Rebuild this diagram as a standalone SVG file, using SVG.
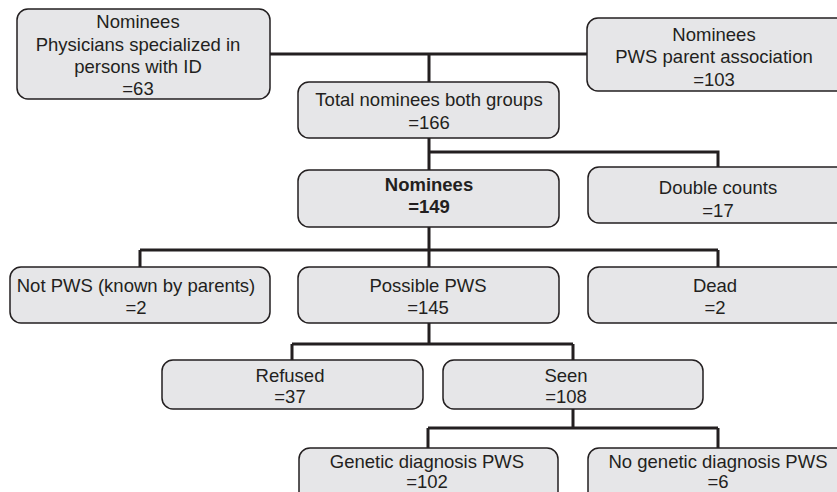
<svg xmlns="http://www.w3.org/2000/svg" width="837" height="492" viewBox="0 0 837 492">
<style>
.box{fill:#e6e6e8;stroke:#231f20;stroke-width:1.5}
.t{font-family:"Liberation Sans",Arial,sans-serif;font-size:18.5px;fill:#231f20;text-anchor:middle}
.b{font-weight:bold}
.c{fill:none;stroke:#231f20;stroke-width:3;stroke-linecap:butt}
</style>
<rect width="837" height="492" fill="#ffffff"/>
<g id="connectors">
<path class="c" d="M270,54H587M429,54V82"/>
<path class="c" d="M429,138V170M429,152H718V167"/>
<path class="c" d="M429,227V250M140,250H718M140,250V267M429,250V267M718,250V267"/>
<path class="c" d="M429,323V344M292,344H573M292,344V360M573,344V360"/>
<path class="c" d="M573,409V428M428,428H718M428,428V448M718,428V448"/>
</g>
<g id="n-physicians">
<rect class="box" x="17" y="9" width="253" height="90" rx="11"/>
<text class="t" x="138" y="28">Nominees</text>
<text class="t" x="138" y="51">Physicians specialized in</text>
<text class="t" x="138" y="73">persons with ID</text>
<text class="t" x="138" y="95">=63</text>
</g>
<g id="n-parents">
<rect class="box" x="587" y="18" width="270" height="73" rx="11"/>
<text class="t" x="714" y="41">Nominees</text>
<text class="t" x="714" y="63">PWS parent association</text>
<text class="t" x="714" y="86">=103</text>
</g>
<g id="n-total">
<rect class="box" x="298" y="82" width="261" height="56" rx="11"/>
<text class="t" x="429" y="106">Total nominees both groups</text>
<text class="t" x="429" y="129">=166</text>
</g>
<g id="n-nominees">
<rect class="box" x="298" y="170" width="261" height="57" rx="11"/>
<text class="t b" x="429" y="191">Nominees</text>
<text class="t b" x="429" y="213">=149</text>
</g>
<g id="n-double">
<rect class="box" x="588" y="167" width="270" height="56" rx="11"/>
<text class="t" x="718" y="194">Double counts</text>
<text class="t" x="718" y="217">=17</text>
</g>
<g id="n-notpws">
<rect class="box" x="10" y="267" width="260" height="56" rx="11"/>
<text class="t" x="136" y="292">Not PWS (known by parents)</text>
<text class="t" x="136" y="314">=2</text>
</g>
<g id="n-possible">
<rect class="box" x="298" y="267" width="261" height="56" rx="11"/>
<text class="t" x="428" y="292">Possible PWS</text>
<text class="t" x="428" y="314">=145</text>
</g>
<g id="n-dead">
<rect class="box" x="588" y="267" width="270" height="56" rx="11"/>
<text class="t" x="715" y="292">Dead</text>
<text class="t" x="715" y="314">=2</text>
</g>
<g id="n-refused">
<rect class="box" x="162" y="360" width="261" height="49" rx="11"/>
<text class="t" x="290" y="382">Refused</text>
<text class="t" x="290" y="403">=37</text>
</g>
<g id="n-seen">
<rect class="box" x="443" y="360" width="260" height="49" rx="11"/>
<text class="t" x="566" y="382">Seen</text>
<text class="t" x="566" y="403">=108</text>
</g>
<g id="n-genetic">
<rect class="box" x="299" y="448" width="259" height="60" rx="11"/>
<text class="t" x="427" y="468">Genetic diagnosis PWS</text>
<text class="t" x="427" y="488">=102</text>
</g>
<g id="n-nogenetic">
<rect class="box" x="588" y="448" width="270" height="60" rx="11"/>
<text class="t" x="718" y="468">No genetic diagnosis PWS</text>
<text class="t" x="718" y="488">=6</text>
</g>
</svg>
